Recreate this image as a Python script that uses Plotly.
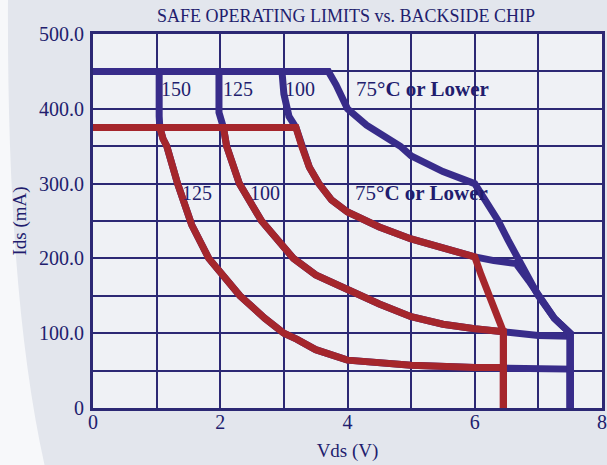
import plotly.graph_objects as go

# ---- data ----
# Blue family (upper limit curves)
blue_150_v = [0, 1.04, 1.04, 1.05, 1.1, 1.16, 1.33, 1.55, 1.82, 2.31, 2.7, 3.0, 3.2, 3.5, 4.0, 4.5, 5.0, 6.0, 6.45, 7.5, 7.5]
blue_150_i = [450, 450, 390, 375, 360, 350, 300, 245, 200, 150, 120, 100, 92, 78, 64, 60, 57, 54, 53, 52, 0]

blue_125_v = [0, 1.98, 1.98, 2.05, 2.1, 2.3, 2.65, 3.15, 3.5, 4.0, 4.5, 5.0, 5.5, 6.0, 6.45, 7.0, 7.5, 7.5]
blue_125_i = [450, 450, 395, 375, 350, 300, 250, 200, 178, 158, 139, 122, 112, 106, 102, 97, 96, 0]

blue_100_v = [0, 2.97, 3.0, 3.08, 3.19, 3.28, 3.4, 3.55, 3.75, 4.0, 4.5, 5.0, 5.5, 6.0, 6.3, 6.65, 6.85, 7.0, 7.25, 7.5, 7.5]
blue_100_i = [450, 450, 420, 390, 375, 350, 322, 300, 278, 262, 242, 226, 213, 202, 197, 193, 170, 150, 120, 100, 0]

blue_75_v = [0, 3.7, 3.82, 4.0, 4.3, 4.6, 4.83, 5.0, 5.5, 6.0, 6.15, 6.37, 6.52, 6.67, 6.85, 7.0, 7.25, 7.5, 7.5]
blue_75_i = [450, 450, 432, 400, 378, 362, 350, 337, 316, 300, 280, 250, 225, 200, 172, 150, 120, 100, 0]

# Red family
red_125_v = [0, 1.05, 1.1, 1.16, 1.33, 1.55, 1.82, 2.31, 2.7, 3.0, 3.2, 3.5, 4.0, 4.5, 5.0, 6.0, 6.45, 6.45]
red_125_i = [375, 375, 360, 350, 300, 245, 200, 150, 120, 100, 92, 78, 64, 60, 57, 54, 54, 0]

red_100_v = [0, 2.05, 2.1, 2.3, 2.65, 3.15, 3.5, 4.0, 4.5, 5.0, 5.5, 6.0, 6.45, 6.45]
red_100_i = [375, 375, 350, 300, 250, 200, 178, 158, 139, 122, 112, 106, 102, 0]

red_75_v = [0, 3.19, 3.28, 3.4, 3.55, 3.75, 4.0, 4.5, 5.0, 5.5, 6.0, 6.1, 6.22, 6.38, 6.45, 6.45]
red_75_i = [375, 375, 350, 322, 300, 278, 262, 242, 226, 213, 202, 178, 150, 118, 102, 0]

x_tick_vals = [0, 2, 4, 6, 8]
x_tick_text = ["0", "2", "4", "6", "8"]
y_tick_vals = [0, 100, 200, 300, 400, 500]
y_tick_text = ["0", "100.0", "200.0", "300.0", "400.0", "500.0"]

blue_labels = ["150", "125", "100", "75<b>°C or Lower</b>"]
blue_label_x = [1.3, 2.28, 3.25, 5.18]
blue_label_y = [427, 427, 427, 427]
red_labels = ["125", "100", "75<b>°C or Lower</b>"]
red_label_x = [1.64, 2.7, 5.16]
red_label_y = [288, 288, 288]
label_sizes_blue = [20, 20, 20, 21]
label_sizes_red = [20, 20, 21]

# ---- style ----
NAVY = "#221d6e"
GRID = "#2c2874"
BLUE = "#382c8a"
RED = "#a5262c"
FONT = "Liberation Serif"
PAPER = "#e3e6ed"

fig = go.Figure()

for vx, iy in [(blue_150_v, blue_150_i), (blue_125_v, blue_125_i),
               (blue_100_v, blue_100_i), (blue_75_v, blue_75_i)]:
    fig.add_trace(go.Scatter(x=vx, y=iy, mode="lines",
                             line=dict(color=BLUE, width=7, shape="linear"),
                             showlegend=False, hoverinfo="skip"))

for vx, iy in [(red_125_v, red_125_i), (red_100_v, red_100_i), (red_75_v, red_75_i)]:
    fig.add_trace(go.Scatter(x=vx, y=iy, mode="lines",
                             line=dict(color=RED, width=7, shape="linear"),
                             showlegend=False, hoverinfo="skip"))

for t, x, y, s in zip(blue_labels, blue_label_x, blue_label_y, label_sizes_blue):
    fig.add_annotation(x=x, y=y, xref="x", yref="y", text=t, showarrow=False,
                       font=dict(family=FONT, size=s, color=NAVY))
for t, x, y, s in zip(red_labels, red_label_x, red_label_y, label_sizes_red):
    fig.add_annotation(x=x, y=y, xref="x", yref="y", text=t, showarrow=False,
                       font=dict(family=FONT, size=s, color=NAVY))

# faint white wedge at the left edge of the page (background decoration)
fig.add_shape(type="path", xref="paper", yref="paper", layer="below",
              path="M -0.185 1.1 L -0.167 1.1 Q -0.17 0.3 -0.094 -0.16 L -0.185 -0.16 Z",
              fillcolor="#f7f8fa", line=dict(width=0))

fig.update_layout(
    width=607, height=465,
    margin=dict(l=93, r=5, t=34, b=57, autoexpand=False),
    paper_bgcolor=PAPER,
    plot_bgcolor="#eff1f5",
    font=dict(family=FONT, color=NAVY, size=20),
    title=dict(text="SAFE OPERATING LIMITS vs. BACKSIDE CHIP",
               x=0.57, xanchor="center", y=0.967, yanchor="middle",
               font=dict(family=FONT, size=18, color=NAVY)),
    xaxis=dict(range=[0, 8], tickvals=x_tick_vals, ticktext=x_tick_text,
               showgrid=True, gridcolor=GRID, gridwidth=2,
               minor=dict(dtick=1, showgrid=True, gridcolor=GRID, gridwidth=2),
               showline=True, linecolor=GRID, linewidth=3, mirror=True,
               ticks="", zeroline=False, ticklabelstandoff=-6, automargin=False,
               title=dict(text="Vds (V)", standoff=12, font=dict(size=19)),
               tickfont=dict(size=20)),
    yaxis=dict(range=[0, 500], tickvals=y_tick_vals, ticktext=y_tick_text,
               showgrid=True, gridcolor=GRID, gridwidth=2,
               minor=dict(dtick=50, showgrid=True, gridcolor=GRID, gridwidth=2),
               showline=True, linecolor=GRID, linewidth=3, mirror=True,
               ticks="", zeroline=False, ticklabelstandoff=2, automargin=False,
               title=dict(text="Ids (mA)", standoff=8, font=dict(size=19)),
               tickfont=dict(size=20)),
)

fig.write_html(
    "out.html",
    config={"displayModeBar": False},
    post_script="document.body.style.margin='0';document.body.style.overflow='hidden';"
                "document.body.style.background='" + PAPER + "';",
)
